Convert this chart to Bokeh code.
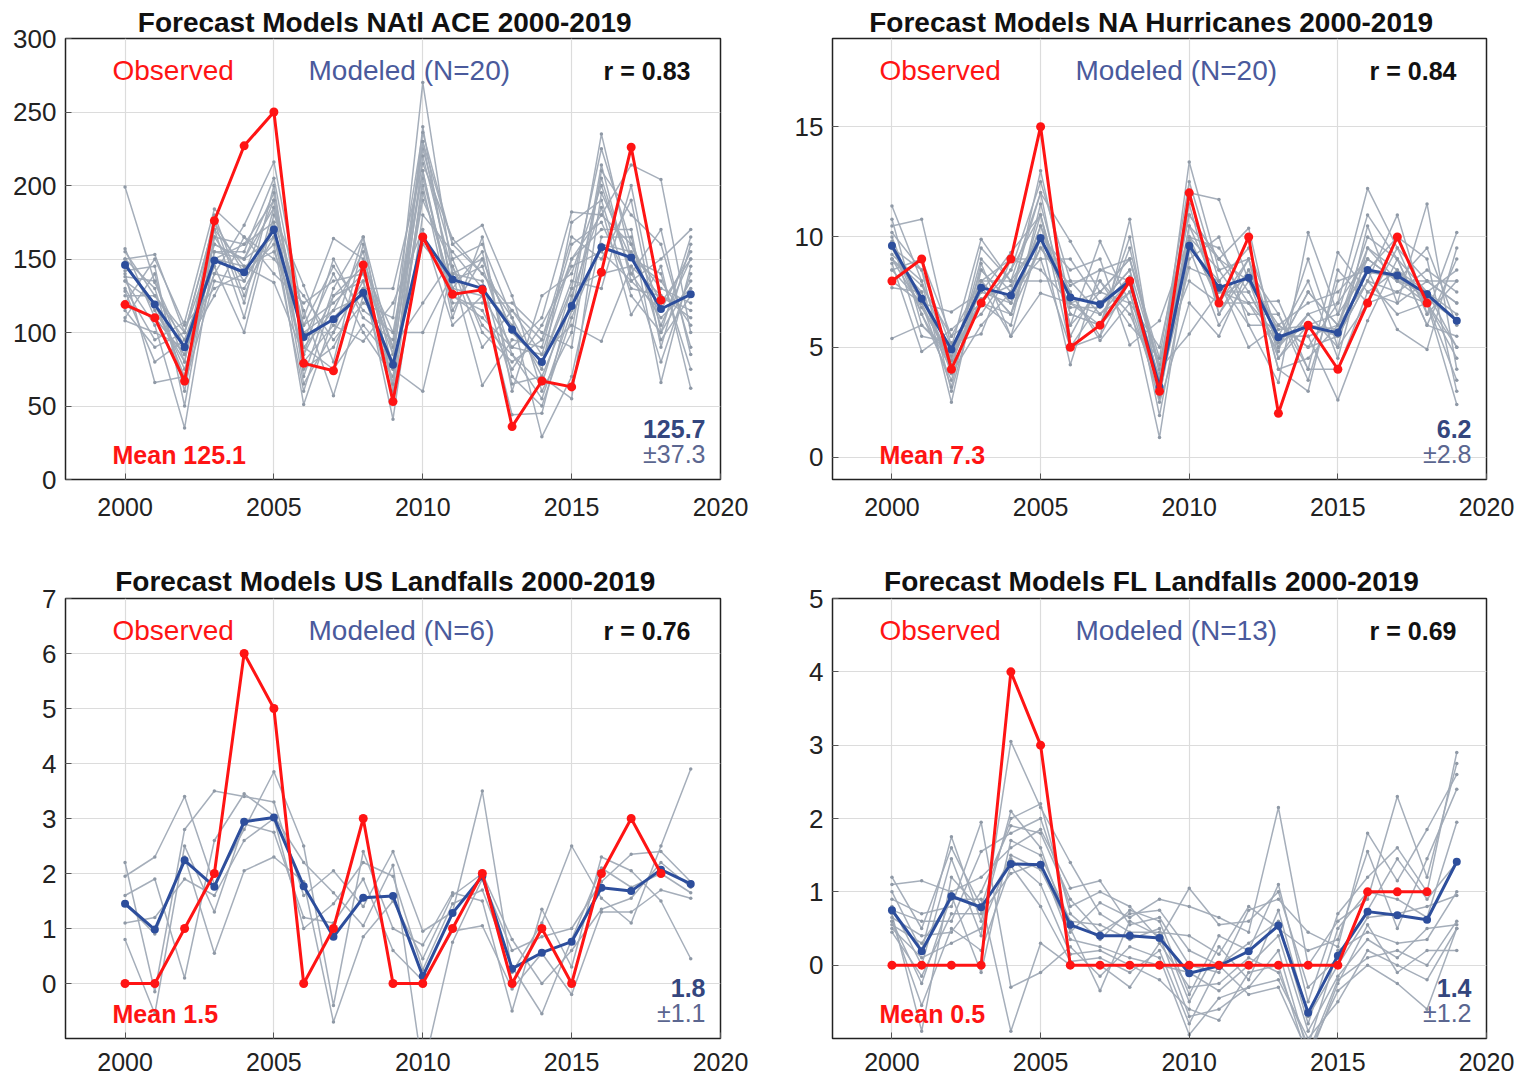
from bokeh.plotting import figure
from bokeh.layouts import column, row
from bokeh.models import Label, FixedTicker, Range1d
from bokeh.embed import file_html
from bokeh.resources import INLINE

years = list(range(2000, 2020))
obs_years = list(range(2000, 2019))
x_ticks = [2000, 2005, 2010, 2015, 2020]

# ---------------- NAtl ACE ----------------
ace_obs = [119, 110, 67, 176, 227, 250, 79, 74, 146, 53, 165, 126, 129, 36, 67, 63, 141, 226, 122]
ace_mean = [146, 119, 90, 149, 141, 170, 97, 109, 127, 78, 165, 136, 130, 102, 80, 118, 158, 151, 116, 126]
ace_models = [
    [199, 134, 90, 160, 150, 185, 105, 120, 140, 85, 270, 140, 150, 100, 80, 130, 225, 160, 120, 150],
    [150, 153, 100, 175, 120, 200, 70, 130, 165, 60, 240, 125, 110, 90, 110, 182, 180, 214, 204, 100],
    [130, 95, 107, 184, 165, 150, 125, 95, 120, 110, 236, 160, 173, 125, 60, 100, 214, 135, 150, 170],
    [145, 120, 75, 140, 173, 216, 110, 164, 150, 90, 225, 150, 100, 80, 95, 165, 150, 190, 90, 160],
    [110, 140, 60, 165, 135, 170, 51, 110, 130, 130, 215, 164, 140, 110, 70, 120, 235, 150, 140, 75],
    [157, 110, 85, 150, 160, 190, 95, 140, 100, 70, 200, 110, 165, 60, 125, 140, 200, 140, 110, 130],
    [125, 125, 95, 145, 100, 180, 132, 80, 160, 75, 190, 145, 90, 115, 85, 150, 170, 170, 66, 145],
    [140, 66, 70, 170, 145, 134, 85, 150, 110, 95, 230, 130, 155, 70, 50, 110, 160, 155, 130, 120],
    [135, 105, 35, 155, 155, 205, 100, 100, 135, 41, 180, 155, 130, 105, 75, 175, 190, 125, 100, 165],
    [120, 150, 105, 130, 140, 160, 60, 125, 145, 100, 210, 120, 120, 120, 100, 90, 210, 180, 160, 90],
    [148, 115, 80, 180, 125, 175, 115, 57, 125, 80, 160, 135, 145, 85, 65, 130, 140, 145, 80, 140],
    [115, 90, 100, 160, 150, 195, 90, 115, 155, 65, 220, 140, 64, 95, 90, 160, 175, 130, 125, 110],
    [150, 130, 65, 135, 130, 165, 80, 105, 94, 120, 170, 105, 125, 44, 45, 125, 185, 112, 145, 62],
    [108, 100, 90, 125, 165, 140, 120, 135, 140, 90, 120, 150, 160, 110, 29, 70, 165, 165, 95, 125],
    [138, 135, 80, 170, 110, 185, 75, 90, 130, 55, 205, 125, 115, 75, 105, 145, 155, 135, 115, 155],
    [128, 80, 95, 150, 145, 155, 105, 145, 115, 100, 100, 140, 135, 65, 70, 55, 195, 150, 135, 105],
    [142, 145, 50, 165, 160, 175, 65, 100, 165, 85, 210, 115, 150, 100, 80, 135, 130, 200, 100, 135],
    [118, 110, 85, 140, 135, 170, 100, 115, 125, 75, 60, 145, 105, 85, 55, 115, 205, 140, 170, 85],
    [155, 125, 100, 175, 140, 190, 90, 75, 105, 80, 230, 160, 140, 115, 95, 150, 180, 160, 105, 150],
    [135, 120, 70, 155, 150, 165, 85, 125, 135, 65, 195, 130, 125, 90, 85, 105, 94, 145, 125, 115],
]

# ---------------- NA Hurricanes ----------------
hur_obs = [8, 9, 4, 7, 9, 15, 5, 6, 8, 3, 12, 7, 10, 2, 6, 4, 7, 10, 7]
hur_mean = [9.6, 7.2, 4.9, 7.7, 7.35, 9.95, 7.25, 6.95, 8.0, 3.2, 9.6, 7.7, 8.15, 5.45, 5.95, 5.65, 8.5, 8.25, 7.4, 6.2]
hur_models = [
    [11.4, 8.0, 4.5, 8.5, 7.0, 13.0, 7.0, 6.5, 8.0, 3.5, 13.4, 8.5, 9.0, 5.0, 7.5, 6.0, 9.0, 8.0, 7.0, 5.0],
    [10.5, 10.8, 5.0, 9.9, 8.0, 12.0, 9.8, 7.5, 9.0, 4.0, 12.0, 11.7, 8.0, 6.0, 5.0, 7.0, 12.2, 9.5, 8.0, 8.0],
    [9.5, 7.0, 6.6, 7.5, 9.3, 11.0, 6.0, 9.8, 7.0, 5.0, 11.0, 9.0, 10.4, 4.5, 6.0, 5.5, 8.0, 11.0, 6.5, 10.2],
    [10.0, 6.5, 3.5, 8.0, 6.5, 10.5, 7.5, 5.5, 10.8, 2.7, 10.5, 7.5, 7.0, 7.1, 4.0, 9.3, 7.5, 7.0, 11.5, 4.0],
    [8.5, 9.0, 5.5, 6.5, 8.5, 12.5, 8.0, 8.0, 6.0, 4.5, 12.5, 8.0, 9.5, 5.5, 8.0, 4.5, 9.5, 8.5, 7.5, 6.5],
    [9.0, 7.5, 4.0, 9.0, 7.5, 9.0, 5.0, 7.0, 8.5, 1.9, 9.0, 10.0, 6.0, 3.4, 10.2, 6.5, 11.0, 9.0, 6.0, 9.0],
    [5.4, 6.0, 4.8, 7.0, 6.0, 11.5, 6.5, 6.0, 7.5, 3.0, 11.5, 6.5, 8.5, 6.5, 3.5, 8.0, 8.5, 10.0, 9.0, 3.0],
    [10.2, 8.5, 3.0, 8.0, 8.0, 10.0, 8.5, 9.0, 5.1, 6.2, 10.0, 9.5, 7.5, 5.0, 6.5, 5.0, 7.0, 7.5, 8.5, 7.5],
    [9.8, 5.5, 5.2, 5.6, 9.0, 8.5, 7.0, 6.0, 9.5, 3.8, 10.0, 7.0, 9.0, 4.0, 4.5, 6.0, 8.0, 6.5, 7.0, 2.4],
    [8.0, 7.0, 4.2, 7.8, 5.5, 10.0, 4.2, 8.5, 8.0, 3.2, 8.6, 8.0, 5.0, 6.0, 7.0, 7.5, 9.0, 8.0, 7.5, 8.5],
    [9.2, 8.0, 2.5, 8.5, 7.0, 9.5, 7.5, 5.3, 7.0, 0.9, 9.5, 6.0, 8.0, 5.5, 5.5, 2.6, 6.2, 9.0, 6.0, 5.5],
    [8.8, 4.8, 5.8, 7.0, 6.5, 11.0, 6.0, 7.5, 9.0, 4.2, 11.0, 9.0, 7.0, 4.8, 9.0, 5.0, 10.5, 7.0, 8.0, 7.0],
    [9.6, 6.5, 4.0, 9.5, 8.0, 8.0, 8.0, 6.5, 7.5, 2.5, 7.0, 5.5, 8.5, 5.2, 6.0, 6.5, 8.5, 5.8, 4.9, 9.5],
    [7.7, 7.5, 3.8, 6.0, 7.5, 12.0, 5.5, 8.0, 6.5, 3.5, 10.0, 8.5, 6.5, 6.5, 4.0, 4.0, 7.5, 8.5, 7.0, 4.5],
    [9.0, 6.8, 4.5, 8.0, 9.0, 9.0, 9.0, 7.0, 8.5, 4.0, 5.6, 7.5, 7.5, 5.0, 7.5, 6.0, 9.5, 8.0, 9.5, 6.0],
    [9.5, 8.5, 5.0, 7.5, 7.0, 10.5, 6.5, 6.0, 10.0, 3.0, 12.0, 6.5, 9.0, 4.0, 3.0, 8.5, 7.0, 9.5, 6.5, 8.0],
    [8.5, 7.0, 3.2, 8.8, 5.5, 7.45, 7.0, 7.5, 7.0, 2.8, 9.5, 8.0, 6.0, 6.0, 5.0, 5.5, 8.0, 7.5, 7.0, 3.5],
    [10.8, 6.0, 4.6, 7.0, 8.5, 11.0, 5.0, 5.5, 8.0, 3.6, 10.5, 9.0, 8.0, 4.5, 6.5, 7.0, 9.0, 8.0, 8.0, 7.0],
    [9.0, 7.8, 5.5, 8.0, 6.5, 9.5, 7.8, 8.5, 9.0, 4.5, 8.0, 7.0, 7.0, 5.5, 5.5, 6.0, 10.0, 9.0, 7.5, 5.0],
    [9.5, 7.2, 4.4, 7.2, 7.8, 10.0, 6.8, 6.8, 8.2, 3.3, 9.8, 7.2, 8.2, 5.8, 6.0, 5.8, 8.4, 8.2, 7.2, 6.2],
]

# ---------------- US Landfalls ----------------
us_obs = [0, 0, 1, 2, 6, 5, 0, 1, 3, 0, 0, 1, 2, 0, 1, 0, 2, 3, 2]
us_mean = [1.45, 0.98, 2.24, 1.76, 2.94, 3.02, 1.77, 0.85, 1.56, 1.59, 0.13, 1.28, 1.95, 0.27, 0.56, 0.76, 1.74, 1.68, 2.07, 1.81]
us_models = [
    [2.2, -0.15, 2.8, 3.5, 3.4, 3.3, 1.6, 2.05, 1.4, 2.4, 0.95, 1.3, 3.5, 0.2, 1.1, 2.5, 1.55, 1.1, 2.5, 3.9],
    [1.95, 2.3, 3.4, 1.8, 2.8, 3.85, 2.5, -0.4, 2.4, 1.0, 0.7, 1.65, 1.5, -0.5, 1.35, 0.3, 2.3, 2.05, 1.5, 0.45],
    [1.6, 1.9, 0.1, 2.6, 3.45, 3.05, 2.2, 1.65, 1.05, 2.15, -1.6, 0.75, 1.9, 0.6, 0.85, 1.0, 1.85, 2.35, 2.4, 1.85],
    [1.45, 0.9, 2.3, 0.55, 2.05, 2.3, 1.85, -0.7, 0.85, 1.5, 0.45, 1.6, 2.0, 0.8, 0.0, 0.6, 1.35, 1.55, 2.2, 1.75],
    [1.1, 1.2, 1.9, 1.6, 2.6, 3.0, 1.0, 1.45, 2.2, 1.95, 0.25, 1.45, 1.7, 0.3, -0.55, 0.8, 2.1, 1.75, 2.0, 1.65],
    [0.8, -0.55, 2.5, 1.3, 2.9, 2.75, 1.2, 1.1, 1.9, 0.6, 0.05, 0.95, 1.05, -0.1, 0.55, -0.2, 1.3, 1.3, 1.7, 1.55],
]

# ---------------- FL Landfalls ----------------
fl_obs = [0, 0, 0, 0, 4, 3, 0, 0, 0, 0, 0, 0, 0, 0, 0, 0, 1, 1, 1]
fl_mean = [0.75, 0.19, 0.94, 0.79, 1.38, 1.37, 0.55, 0.40, 0.40, 0.37, -0.11, -0.01, 0.19, 0.54, -0.65, 0.13, 0.73, 0.68, 0.62, 1.41]
fl_models = [
    [1.2, 0.5, 1.6, 0.8, 2.0, 2.2, 0.7, 0.35, 0.75, 0.6, -0.4, 0.4, 0.2, 1.1, -0.5, 0.7, 1.2, 1.6, 1.0, 2.9],
    [1.1, 1.15, 1.0, 1.2, 1.6, 1.85, 1.05, 1.15, 0.55, 0.65, 0.0, -0.1, 0.75, 0.9, 0.45, 0.25, 1.8, 1.15, 1.85, 2.6],
    [1.0, 0.2, 1.75, 0.6, 2.1, 1.6, 0.45, 0.85, 0.65, 0.9, 0.8, 0.65, 0.45, 2.15, 0.0, 0.6, 0.9, 2.3, 1.2, 2.75],
    [0.9, 0.7, 0.8, 1.95, -0.3, -0.1, 0.25, -0.15, 0.25, 0.1, -0.95, -0.45, -0.3, -0.2, -1.0, -0.5, 0.2, 0.0, -0.2, 0.5],
    [0.8, 0.0, 1.45, 0.4, 3.05, 2.15, 1.4, 0.7, 0.45, 0.45, 0.4, 0.15, 0.8, 0.5, 0.2, 0.35, 1.55, 0.5, 1.45, 2.4],
    [0.75, 0.6, 0.6, 1.55, 1.8, 2.0, 0.8, 1.0, 0.8, 0.35, 1.05, 0.55, 0.6, 1.0, -0.3, 0.1, 0.75, 1.45, 0.9, 1.4],
    [0.7, -0.9, 1.2, 0.75, 1.45, 1.1, 0.15, 0.2, 0.0, -0.2, -0.6, -0.75, -0.1, 0.0, -1.3, -0.25, 0.55, -0.1, 0.2, 0.2],
    [0.65, 0.4, 0.45, 1.0, 1.9, 1.8, 0.9, 0.45, 0.7, 0.75, 0.2, 0.0, 0.3, 0.6, -0.8, 0.5, 1.0, 0.9, 0.65, 1.95],
    [0.6, -0.25, 0.95, -0.1, 1.7, 1.5, 0.6, 0.55, 0.35, 0.5, -0.5, 0.25, -0.2, 0.75, -0.7, 0.0, 0.65, 0.7, 0.8, 0.95],
    [0.55, 0.3, 0.9, 0.9, -0.9, 0.3, 0.0, 0.0, -0.3, 0.3, -0.3, -0.25, 0.1, -0.1, -1.1, 0.2, 0.45, 0.3, 0.35, 1.0],
    [0.5, 0.1, 0.3, 0.5, 1.5, 1.3, 0.5, -0.35, 0.6, 0.4, -0.7, -0.6, -0.3, 0.2, -1.2, -0.2, 0.1, 0.2, 0.0, 0.6],
    [0.45, -0.15, 0.7, 0.7, 1.25, 1.4, 0.35, 0.25, 0.1, 0.0, -0.1, -0.35, 0.0, 0.4, -0.9, -0.15, 0.35, 0.1, 0.5, 0.55],
    [0.6, -0.55, 0.5, 0.2, 1.35, 0.8, 0.05, 0.1, -0.1, 0.2, -0.8, 0.0, -0.4, -0.3, -1.2, -0.35, 0.0, -0.25, -0.6, 0.5],
]

FONT = "Liberation Sans"
RED = "#ff1414"
BLUE = "#2d4e9c"
GRAY = "#a0aab6"
MODTXT = "#4a5a9c"
SDTXT = "#5b6690"


def panel(title, y_range, y_ticks, obs, mean, models, n_text, r_text, mean_text,
          mm_text, sd_text, width, height, borders, title_standoff, x_standoff):
    bl, br, bt, bb = borders
    p = figure(width=width, height=height, output_backend="svg", toolbar_location=None,
               x_range=Range1d(1998, 2020), y_range=Range1d(*y_range),
               min_border_left=bl, min_border_right=br, min_border_top=bt,
               min_border_bottom=bb, title=title)
    p.title.align = "center"
    p.title.text_font = FONT
    p.title.text_font_size = "28px"
    p.title.text_font_style = "bold"
    p.title.text_color = "#111111"
    p.title.standoff = title_standoff
    p.outline_line_color = "#222222"
    p.outline_line_width = 1.5
    p.background_fill_color = "white"
    p.border_fill_color = "white"
    for ax in (p.xaxis[0], p.yaxis[0]):
        ax.axis_line_color = None
        ax.major_tick_in = 6
        ax.major_tick_out = 0
        ax.major_tick_line_color = "#555555"
        ax.minor_tick_line_color = None
        ax.major_label_text_font = FONT
        ax.major_label_text_font_size = "25px"
        ax.major_label_text_color = "#222222"
    p.yaxis.major_label_text_font_size = "26px"
    p.xaxis.ticker = FixedTicker(ticks=x_ticks)
    p.yaxis.ticker = FixedTicker(ticks=y_ticks)
    p.xaxis.major_label_standoff = x_standoff
    p.yaxis.major_label_standoff = 9
    p.xgrid.ticker = FixedTicker(ticks=x_ticks)
    p.ygrid.ticker = FixedTicker(ticks=y_ticks)
    p.grid.grid_line_color = "#dcdcdc"
    p.grid.grid_line_width = 1.2

    for m in models:
        p.line(years, m, line_color=GRAY, line_width=1.5, line_alpha=0.95)
        p.scatter(years, m, size=3.5, fill_color="#8f99a6", line_color=None)

    p.line(years, mean, line_color=BLUE, line_width=3)
    p.scatter(years, mean, size=8, fill_color=BLUE, line_color=None)
    p.line(obs_years, obs, line_color=RED, line_width=3)
    p.scatter(obs_years, obs, size=9, fill_color=RED, line_color=None)

    fw = width - bl - br
    fh = height - bt - bb

    def lab(x, y, text, color, size, bold=False, align="left"):
        p.add_layout(Label(x=x, y=y, x_units="screen", y_units="screen", text=text,
                           text_color=color, text_font=FONT, text_font_size=size,
                           text_font_style="bold" if bold else "normal",
                           text_align=align, text_baseline="middle"))

    lab(47, fh - 32, "Observed", RED, "28px")
    lab(243, fh - 32, n_text, MODTXT, "28px")
    lab(fw - 30, fh - 32, r_text, "#111111", "25px", bold=True, align="right")
    lab(47, 25, mean_text, RED, "25px", bold=True)
    lab(fw - 15, 51, mm_text, "#34467e", "25px", bold=True, align="right")
    lab(fw - 15, 26, sd_text, SDTXT, "25px", align="right")
    return p


p1 = panel("Forecast Models  NAtl ACE  2000-2019", (0, 300), [0, 50, 100, 150, 200, 250, 300],
           ace_obs, ace_mean, ace_models, "Modeled (N=20)", "r = 0.83", "Mean 125.1",
           "125.7", "\u00b137.3", 768, 540, (65, 48, 38, 61), 2, 18)
p2 = panel("Forecast Models  NA Hurricanes  2000-2019", (-1, 19), [0, 5, 10, 15],
           hur_obs, hur_mean, hur_models, "Modeled (N=20)", "r = 0.84", "Mean 7.3",
           "6.2", "\u00b12.8", 758, 540, (64, 40, 38, 61), 2, 18)
p3 = panel("Forecast Models  US Landfalls  2000-2019", (-1, 7), [0, 1, 2, 3, 4, 5, 6, 7],
           us_obs, us_mean, us_models, "Modeled (N=6)", "r = 0.76", "Mean 1.5",
           "1.8", "\u00b11.1", 768, 542, (65, 48, 58, 44), 3, 14)
p4 = panel("Forecast Models  FL Landfalls  2000-2019", (-1, 5), [0, 1, 2, 3, 4, 5],
           fl_obs, fl_mean, fl_models, "Modeled (N=13)", "r = 0.69", "Mean 0.5",
           "1.4", "\u00b11.2", 758, 542, (64, 40, 58, 44), 3, 14)

layout = column(row(p1, p2), row(p3, p4))
open("out.html", "w").write(file_html(layout, INLINE))
